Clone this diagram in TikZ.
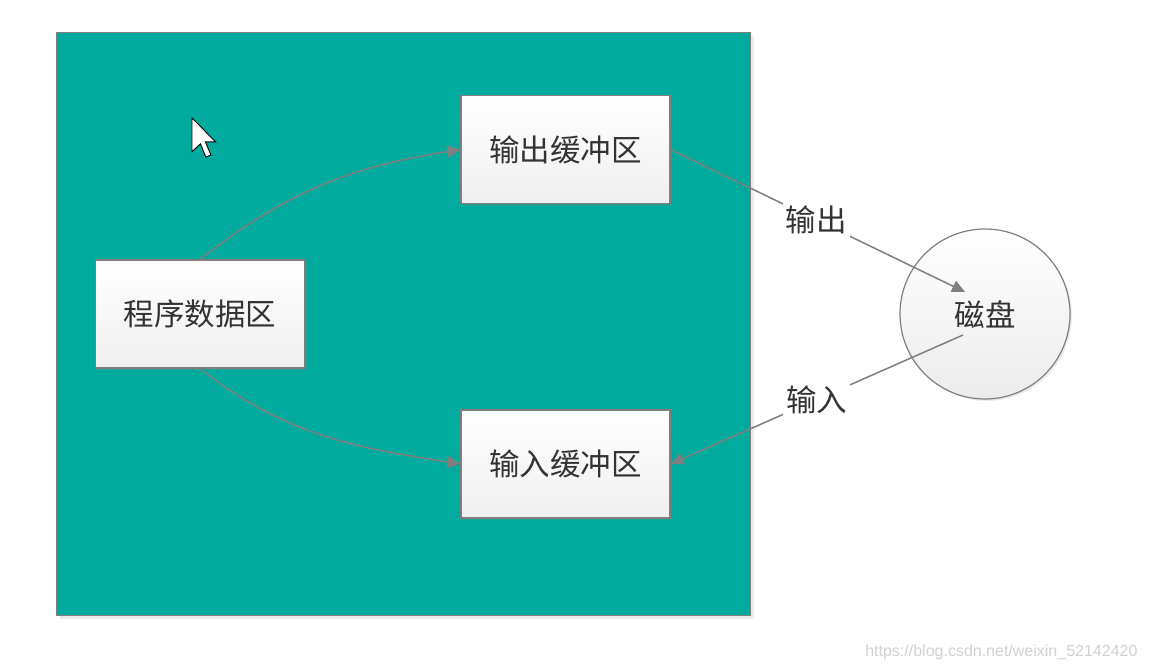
\documentclass[tikz,border=0pt]{standalone}
\usepackage{fontspec}
\newfontfamily\cjk{Noto Sans CJK SC}
\setsansfont{Liberation Sans}
\usetikzlibrary{arrows.meta,shadows}
\definecolor{teal1}{HTML}{00AA9C}
\definecolor{edge}{HTML}{7F7F7F}
\definecolor{txt}{HTML}{333333}
\tikzset{
  stepbox/.style={draw=edge, line width=1.3pt, top color=white, bottom color=gray!12,
    minimum width=209pt, minimum height=108pt, font=\cjk\fontsize{30.5}{32}\selectfont, text=txt,
    drop shadow={shadow xshift=2pt, shadow yshift=-2pt, opacity=0.25}},
  conn/.style={draw=edge, line width=1.5pt, -{Triangle[length=13pt,width=12pt]}},
  lbl/.style={fill=white, inner sep=3pt, font=\cjk\fontsize{30.5}{32}\selectfont, text=txt},
}
\begin{document}
\begin{tikzpicture}[x=1pt,y=-1pt]
\useasboundingbox (0,0) rectangle (1150,671);
\fill[white] (0,0) rectangle (1150,671);
% teal region
\node[draw=edge, line width=1.3pt, fill=teal1, minimum width=694pt, minimum height=583pt,
  anchor=north west, inner sep=0pt,
  drop shadow={shadow xshift=3pt, shadow yshift=-3pt, opacity=0.15}] (mem) at (56,32) {};
% boxes
\node[stepbox] (outb) at (565.5,149.5) {输出缓冲区};
\node[stepbox] (prog) at (200,314) {程序数据区};
\node[stepbox] (inb) at (565.5,464) {输入缓冲区};
% disk
\node[circle, draw=edge, line width=1.2pt, top color=white, bottom color=gray!15,
  minimum size=170pt, inner sep=0pt, font=\cjk\fontsize{30.5}{32}\selectfont, text=txt,
  drop shadow={shadow xshift=2pt, shadow yshift=-2pt, opacity=0.15}] (disk) at (985,314) {磁盘};
\coordinate (din) at (965,292);
\coordinate (dout) at (963,335);
% connectors
\draw[conn] (prog.north) to[out=38,in=189] (outb.west);
\draw[conn] (prog.south) to[out=-38,in=171] (inb.west);
\draw[conn] (outb.east) -- node[lbl, pos=0.495] {输出} (din);
\draw[conn] (dout) -- node[lbl, pos=0.5] {输入} (inb.east);
% cursor
\begin{scope}[shift={(192,118)}, scale=2.1]
\draw[fill=white, draw=black, line width=0.9pt, line join=miter]
  (0,0) -- (0,16) -- (4,12.3) -- (6.6,18.6) -- (9,17.6) -- (6.4,11.4) -- (11.3,11.4) -- cycle;
\end{scope}
% watermark
\node[anchor=east, text=gray!35, font=\sffamily\fontsize{16}{17}\selectfont] (wm) at (1141,652) {https://blog.csdn.net/weixin\_52142420};
\end{tikzpicture}
\end{document}
